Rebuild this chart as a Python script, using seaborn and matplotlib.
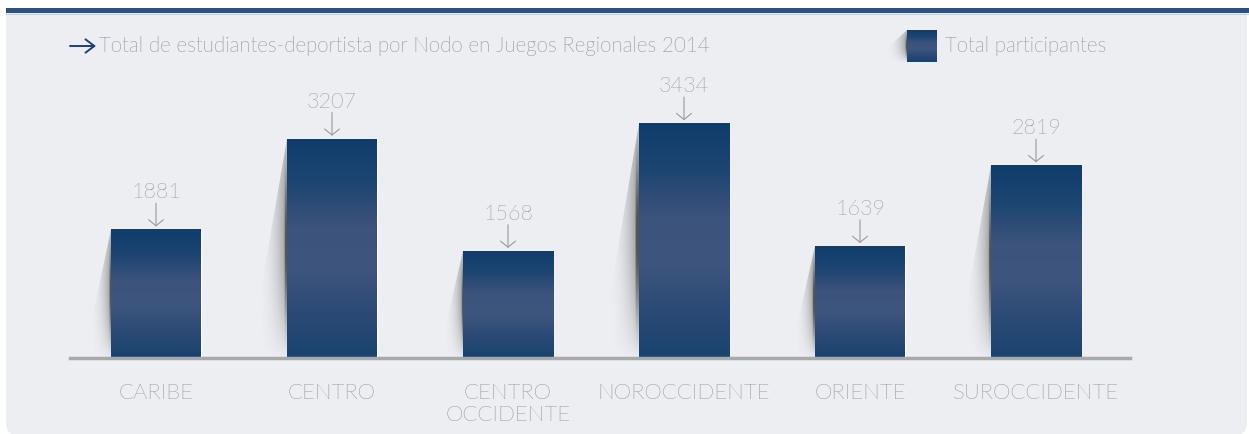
import numpy as np
import pandas as pd
import matplotlib
matplotlib.use('Agg')
import matplotlib.pyplot as plt
import seaborn as sns
from matplotlib import font_manager
from matplotlib.colors import LinearSegmentedColormap
from matplotlib.patches import FancyBboxPatch, Rectangle, Polygon

# data
nodos = ['CARIBE', 'CENTRO', 'CENTRO\nOCCIDENTE', 'NOROCCIDENTE', 'ORIENTE', 'SUROCCIDENTE']
totales = [1881, 3207, 1568, 3434, 1639, 2819]
titulo = 'Total de estudiantes-deportista por Nodo en Juegos Regionales 2014'
serie = 'Total participantes'

W, H = 1249, 434
TEXT_GRAY = '#9c9c9c'
PANEL = '#edeef2'
TOP_BLUE = '#2c4f7c'

bar_cmap = LinearSegmentedColormap.from_list(
    'bar', ['#0f3d6b', '#1d4572', '#3c537b', '#3e557d', '#2a4a75', '#1a436f'])
grad = bar_cmap(np.linspace(0, 1, 256))[:, None, :]

sns.set_theme(style='white')
plt.rcParams['font.family'] = ['Lato', 'DejaVu Sans']


def light_font():
    # pick the Lato Light file by name, otherwise fall back to regular Lato
    for f in font_manager.fontManager.ttflist:
        name = f.fname.lower()
        if 'lato' in name and 'light' in name and 'italic' not in name:
            return font_manager.FontProperties(fname=f.fname)
    return font_manager.FontProperties(family='Lato', weight='normal')


LIGHT = light_font()


def txt_props(size):
    fp = LIGHT.copy()
    fp.set_size(size)
    return fp


def shadow_img():
    # alpha fades to the left (columns) and toward top/bottom (rows)
    u = np.linspace(0, 1, 120)[None, :]        # 0 = far left, 1 = bar edge
    v = np.linspace(0, 1, 200)[:, None]        # 0 = top, 1 = bottom
    a = 0.6 * u ** 2.5 * np.clip(np.sin(np.pi * (0.15 + 0.85 * v)), 0, 1) ** 0.8
    a = a + 0.5 * (u > 0.9) * np.sin(np.pi * v) ** 2
    img = np.zeros((200, 120, 4))
    img[..., :3] = 0.33
    img[..., 3] = np.clip(a, 0, 1)
    return img


def draw_background(fig):
    bg = fig.add_axes([0, 0, 1, 1], zorder=-5)
    bg.set_xlim(0, W)
    bg.set_ylim(H, 0)
    bg.axis('off')
    bg.add_patch(FancyBboxPatch((6, -40), 1241, 476, boxstyle='round,pad=0,rounding_size=14',
                                fc=PANEL, ec='none'))
    bg.add_patch(Rectangle((0, -40), W, 48, fc='white', ec='none'))
    bg.add_patch(Rectangle((6, 8), W - 6, 5, fc=TOP_BLUE, ec='none'))
    bg.plot([6, W], [13.5, 13.5], color='#c3ccda', lw=0.8)

    # title with arrow
    bg.annotate('', xy=(96, 46), xytext=(70, 46),
                arrowprops=dict(arrowstyle='->,head_length=0.4,head_width=0.3',
                                color='#1f416e', lw=1.4, shrinkA=0, shrinkB=0,
                                mutation_scale=16))
    bg.text(99, 46, titulo, fontproperties=txt_props(14.8), color='#8c8c8c',
            va='center', ha='left')

    # legend swatch with its shadow
    sh = bg.imshow(shadow_img(), extent=(885, 908, 62, 30), aspect='auto', zorder=1)
    sh.set_clip_path(Polygon([(907, 30), (885, 50), (885, 62), (907, 62)],
                             transform=bg.transData))
    bg.imshow(grad, extent=(907, 937, 62, 30), aspect='auto', zorder=2)
    bg.text(945, 46, serie, fontproperties=txt_props(14.8), color='#8c8c8c',
            va='center', ha='left')
    return bg


def draw_bars(ax, df):
    sns.barplot(data=df, x='nodo', y='total', ax=ax, color='#1d4572',
                width=90 / 176, saturation=1)
    img = shadow_img()
    for patch, v in zip(ax.patches, df['total']):
        x0 = patch.get_x()
        x1 = x0 + patch.get_width()
        h = patch.get_height()
        # gradient fill clipped to the bar
        im = ax.imshow(grad, extent=(x0, x1, 0, h), aspect='auto', zorder=3)
        im.set_clip_path(patch)
        # soft shadow on the left side
        sw = 0.06 + 0.038 * h / 1000
        poly = Polygon([(x0, h), (x0 - sw, h * 0.15), (x0 - sw, 0), (x0, 0)],
                       transform=ax.transData)
        s = ax.imshow(img, extent=(x0 - sw, x0, 0, h), aspect='auto', zorder=1)
        s.set_clip_path(poly)
        # value label with a thin down arrow
        xc = x0 + patch.get_width() / 2
        ax.annotate('', xy=(xc, h), xytext=(0, 26), textcoords='offset pixels',
                    arrowprops=dict(arrowstyle='->,head_length=0.22,head_width=0.27',
                                    color='#9a9a9a', lw=0.8, shrinkA=0, shrinkB=2,
                                    mutation_scale=20))
        ax.annotate(f'{v}', xy=(xc, h), xytext=(0, 37), textcoords='offset pixels',
                    ha='center', va='center', fontproperties=txt_props(15.5),
                    color=TEXT_GRAY)


def main():
    df = pd.DataFrame({'nodo': nodos, 'total': totales})
    fig = plt.figure(figsize=(W / 100, H / 100), dpi=100, facecolor='white')
    draw_background(fig)

    ax = fig.add_axes([70 / W, 76 / H, 1060 / W, 278 / H])
    ax.patch.set_alpha(0)
    draw_bars(ax, df)

    ax.set_xlim(-86 / 176, 5 + 94 / 176)
    ax.set_ylim(0, 278 / (235 / 3434))
    for side in ['top', 'right', 'left']:
        ax.spines[side].set_visible(False)
    ax.spines['bottom'].set_color('#a9a9a9')
    ax.spines['bottom'].set_linewidth(2.5)
    ax.spines['bottom'].set_zorder(5)
    ax.set_yticks([])
    ax.set_xlabel('')
    ax.set_ylabel('')
    ax.tick_params(axis='x', length=0, pad=18)
    for lab in ax.get_xticklabels():
        lab.set_fontproperties(txt_props(16))
        lab.set_color(TEXT_GRAY)
        lab.set_linespacing(1.15)

    fig.savefig('out.png', dpi=100, facecolor='white')


if __name__ == '__main__':
    main()
